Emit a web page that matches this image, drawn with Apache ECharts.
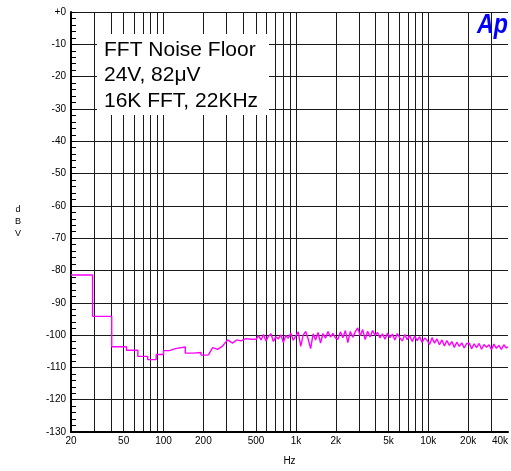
<!DOCTYPE html>
<html>
<head>
<meta charset="utf-8">
<title>FFT Noise Floor</title>
<script src="https://cdn.jsdelivr.net/npm/echarts@6.0.0/dist/echarts.min.js"></script>
<style>
  html, body { margin: 0; padding: 0; background: #fff; }
  #main { width: 511px; height: 471px; }
</style>
</head>
<body>
<div id="main"></div>
<script>
// gridlines and labels on the frequency axis (Hz)
var gridFreqs = [20, 30, 40, 50, 60, 70, 80, 90, 100, 200, 300, 400, 500, 600, 700, 800, 900,
                 1000, 2000, 3000, 4000, 5000, 6000, 7000, 8000, 9000, 10000, 20000, 30000];
var labelFreqs = [20, 50, 100, 200, 500, 1000, 2000, 5000, 10000, 20000, 40000];

// low end of the trace: stepped bins
var stepFreq = [20, 29.1, 40.6, 52.5, 64, 76, 88, 100, 111, 123, 146, 167, 192, 218];
var stepDb   = [-81.4, -94.2, -103.6, -104.7, -106.6, -107.6, -106.0, -104.8, -104.2, -103.7, -105.6, -105.4, -106.2, -106.2];

// rest of the trace
var noiseFreq = [218, 235, 256, 279, 305, 332, 356, 384, 419, 457,
                 500, 522, 545, 569, 594, 620, 648, 676, 706, 737, 770, 804, 839, 876, 915, 955, 997,
                 1041, 1087, 1135, 1185, 1237, 1292, 1349, 1408, 1470, 1535, 1603, 1673, 1747, 1824, 1904, 1988,
                 2076, 2167, 2263, 2362, 2466, 2575, 2688, 2807, 2930, 3059, 3194, 3335, 3482, 3635, 3795, 3962,
                 4137, 4319, 4509, 4708, 4915, 5131, 5357, 5593, 5839, 6096, 6365, 6645, 6937, 7243, 7562, 7894,
                 8242, 8605, 8984, 9379, 9792,
                 10223, 10673, 11143, 11633, 12145, 12680, 13238, 13820, 14429, 15064, 15726, 16418, 17141, 17895,
                 18683, 19505,
                 20363, 21259, 22194, 23171, 24190, 25255, 26366, 27526, 28737, 30002, 31322, 32700, 34139, 35641,
                 37209, 38846, 40000];
var noiseDb = [-106.2, -103.9, -104.4, -103.4, -101.5, -102.5, -101.5, -101.8, -101.1, -101.3,
               -101.3, -100.2, -101.5, -99.8, -101.8, -100.4, -99.6, -102.0, -100.5, -101.2, -99.9, -102.3, -100.1, -101.0, -99.4, -101.6, -100.3,
               -99.0, -103.5, -100.0, -98.9, -101.2, -104.2, -99.6, -101.5, -99.2, -102.5, -99.5, -101.0, -98.9, -100.6, -99.5, -100.9,
               -101.3, -99.0, -100.8, -98.6, -102.3, -98.9, -100.7, -99.0, -97.8, -100.2, -98.3, -101.4, -98.8, -100.6, -98.6, -100.1,
               -99.2, -100.9, -99.6, -101.3, -99.4, -100.8, -99.7, -101.5, -99.5, -100.9, -101.8, -99.8, -101.4, -100.2, -102.0, -100.3,
               -101.7, -100.5, -102.3, -100.9, -101.6,
               -102.9, -100.8, -102.5, -101.2, -103.0, -101.5, -103.4, -101.7, -103.2, -102.0, -103.8, -102.2, -103.5, -102.4,
               -104.0, -102.6,
               -102.5, -104.2, -102.7, -103.9, -102.6, -104.4, -102.9, -103.8, -103.0, -104.5, -102.8, -104.1, -103.2, -104.4,
               -103.0, -104.0, -103.6];

var infoLines = ['FFT Noise Floor', '24V, 82\u03bcV', '16K FFT, 22KHz'];

function pairs(xs, ys) {
    return xs.map(function (x, i) { return [x, ys[i]]; });
}
function hzLabel(v) {
    return v >= 1000 ? (v / 1000) + 'k' : String(v);
}

var FONT = 'Liberation Sans';
var myChart = echarts.init(document.getElementById('main'), null, {renderer: 'canvas'});

myChart.setOption({
    animation: false,
    backgroundColor: '#fff',
    grid: { left: 71, right: 0, top: 12, bottom: 34 },
    xAxis: {
        type: 'log',
        logBase: 10,
        min: 20,
        max: 40000,
        name: 'Hz',
        nameLocation: 'middle',
        nameGap: 24,
        nameTextStyle: { color: '#000', fontFamily: FONT, fontSize: 10 },
        axisLine: { show: true, onZero: false, lineStyle: { color: '#000', width: 2 } },
        axisTick: { show: false, customValues: gridFreqs },
        axisLabel: {
            customValues: labelFreqs,
            formatter: hzLabel,
            color: '#000', fontFamily: FONT, fontSize: 10, margin: 4,
            alignMaxLabel: 'right'
        },
        splitLine: { show: true, lineStyle: { color: '#1a1a1a', width: 1 } }
    },
    yAxis: {
        type: 'value',
        min: -130,
        max: 0,
        interval: 10,
        name: 'd\nB\nV',
        nameLocation: 'middle',
        nameRotate: 0,
        nameGap: 53,
        nameTextStyle: { color: '#000', fontFamily: FONT, fontSize: 9, lineHeight: 12, align: 'center', verticalAlign: 'middle' },
        axisLine: { show: true, lineStyle: { color: '#000', width: 2 } },
        axisTick: { show: true, inside: true, length: 5, lineStyle: { color: '#000' } },
        minorTick: { show: true, splitNumber: 5, length: 5, lineStyle: { color: '#000', width: 1 } },
        axisLabel: {
            formatter: function (v) { return v === 0 ? '+0' : String(v); },
            color: '#000', fontFamily: FONT, fontSize: 10, margin: 5
        },
        splitLine: { show: true, lineStyle: { color: '#1a1a1a', width: 1 } }
    },
    series: [
        {
            type: 'line',
            step: 'end',
            showSymbol: false,
            symbol: 'none',
            data: pairs(stepFreq, stepDb),
            lineStyle: { color: '#ff00ff', width: 1.4 },
            z: 5
        },
        {
            type: 'line',
            showSymbol: false,
            symbol: 'none',
            data: pairs(noiseFreq, noiseDb),
            lineStyle: { color: '#ff00ff', width: 1.4 },
            z: 5
        }
    ],
    graphic: [
        {
            type: 'rect',
            shape: { x: 97, y: 34, width: 172, height: 81 },
            style: { fill: '#fff' },
            z: 100
        },
        {
            type: 'text',
            x: 104, y: 50,
            style: { text: infoLines[0], font: '21px "Liberation Sans"', fill: '#000', verticalAlign: 'middle' },
            z: 101
        },
        {
            type: 'text',
            x: 104, y: 75.5,
            style: { text: infoLines[1], font: '21px "Liberation Sans"', fill: '#000', verticalAlign: 'middle' },
            z: 101
        },
        {
            type: 'text',
            x: 104, y: 101,
            style: { text: infoLines[2], font: '21px "Liberation Sans"', fill: '#000', verticalAlign: 'middle' },
            z: 101
        },
        {
            type: 'text',
            x: 477, y: 26,
            scaleX: 0.86,
            style: { text: 'Ap', font: 'italic bold 27px "Liberation Sans"', fill: '#0000ff', verticalAlign: 'middle' },
            z: 101
        }
    ]
});
</script>
</body>
</html>
